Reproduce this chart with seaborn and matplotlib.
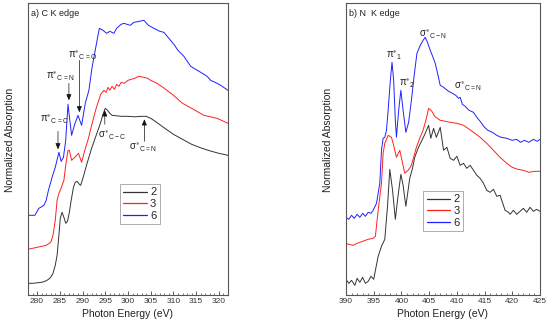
import numpy as np
import pandas as pd
import matplotlib
matplotlib.use("Agg")
import matplotlib.pyplot as plt
import seaborn as sns
from matplotlib.ticker import MultipleLocator
from matplotlib.lines import Line2D

# ---------------- data (C K edge) ----------------
c_e_2 = [278, 279, 280, 281, 282, 282.5, 283, 283.5, 284, 284.4, 284.8, 285.1, 285.5, 285.9, 286.3, 286.7,
         287.1, 287.5, 288, 288.4, 288.8, 289.3, 289.6, 290.2, 291, 292, 293, 294, 294.5, 295, 295.5, 296,
         296.5, 297.5, 298.5, 300, 301.5, 303, 304, 305, 306, 307.8, 310, 312, 314, 316, 318, 320, 322]
c_a_2 = [0.12, 0.12, 0.125, 0.13, 0.145, 0.16, 0.18, 0.22, 0.30, 0.40, 0.60, 0.77, 0.83, 0.78, 0.72, 0.74,
         0.83, 0.95, 1.08, 1.13, 1.14, 1.11, 1.10, 1.19, 1.32, 1.47, 1.60, 1.73, 1.81, 1.87, 1.85, 1.82,
         1.80, 1.795, 1.79, 1.79, 1.785, 1.79, 1.79, 1.77, 1.74, 1.68, 1.61, 1.56, 1.51, 1.475, 1.445, 1.42, 1.40]

c_e_3 = [278, 280, 282, 283, 283.5, 284, 284.4, 284.8, 285.1, 285.5, 285.9, 286.3, 286.8, 287.1, 287.6, 288.3,
         289.1, 289.8, 290.5, 291.3, 292, 293, 294, 294.7, 295.2, 295.6, 296, 296.5, 297, 297.5, 298, 298.5,
         299.2, 300, 300.7, 301.5, 302.3, 303.5, 304.3, 305, 306.4, 308, 310, 312, 314, 316.7, 319.6, 322]
c_a_3 = [0.46, 0.48, 0.50, 0.53, 0.60, 0.75, 0.95, 1.02, 1.05, 1.10, 1.15, 1.30, 1.45, 1.45, 1.35, 1.38,
         1.42, 1.33, 1.45, 1.57, 1.70, 1.87, 2.01, 2.05, 2.03, 2.08, 2.05, 2.09, 2.06, 2.11, 2.09, 2.13,
         2.12, 2.15, 2.16, 2.17, 2.19, 2.18, 2.17, 2.15, 2.12, 2.07, 2.00, 1.92, 1.87, 1.80, 1.77, 1.72]

c_e_6 = [278, 279.5, 280.4, 281.5, 282, 282.5, 283.3, 284, 284.8, 285.3, 285.8, 286.3, 286.8, 287.2, 287.6,
         288.2, 289, 289.8, 290.6, 291.4, 292.1, 293.2, 293.7, 294.5, 295.3, 296, 296.9, 297.5, 298.5, 299.1,
         300.5, 301.3, 302.5, 303.5, 304.5, 305.7, 307, 307.9, 309, 310.1, 311, 312.3, 313.8, 314.5, 316,
         317.4, 318.2, 319.6, 320.4, 322]
c_a_6 = [0.80, 0.80, 0.87, 0.90, 0.95, 1.05, 1.18, 1.28, 1.43, 1.34, 1.38, 1.55, 1.91, 1.75, 1.60,
         1.70, 1.80, 1.70, 1.92, 2.05, 2.28, 2.55, 2.67, 2.65, 2.62, 2.64, 2.62, 2.67, 2.71, 2.72,
         2.70, 2.73, 2.74, 2.75, 2.70, 2.67, 2.64, 2.63, 2.57, 2.51, 2.45, 2.39, 2.29, 2.27, 2.23,
         2.19, 2.15, 2.12, 2.10, 2.05]

# ---------------- data (N K edge) ----------------
n_e_2 = [390, 390.5, 391, 391.6, 392, 392.5, 393, 393.5, 394, 394.5, 395, 395.2, 395.8, 396.4, 397, 397.5,
         397.9, 398.4, 398.9, 399.4, 399.9, 400.3, 400.8, 401.5, 402, 402.4, 403, 403.7, 404.3, 404.9, 405.3,
         405.8, 406.3, 407, 407.6, 408.2, 408.8, 409.4, 410, 410.6, 411.2, 411.8, 412.4, 413, 413.6, 414.2,
         414.8, 415.4, 416, 416.6, 417.2, 417.8, 418.4, 418.7, 419.3, 419.6, 420.2, 420.8, 421.4, 422, 422.6,
         423.2, 423.8, 424.4, 425]
n_a_2 = [0.16, 0.12, 0.15, 0.10, 0.17, 0.13, 0.18, 0.12, 0.14, 0.19, 0.16, 0.22, 0.39, 0.49, 0.56, 0.90,
         1.26, 1.05, 0.76, 1.00, 1.21, 1.10, 0.89, 1.17, 1.27, 1.38, 1.47, 1.55, 1.62, 1.70, 1.57,
         1.67, 1.58, 1.68, 1.45, 1.48, 1.37, 1.35, 1.39, 1.30, 1.32, 1.27, 1.30, 1.25, 1.20, 1.17,
         1.12, 1.05, 1.03, 1.06, 0.99, 1.00, 0.90, 0.85, 0.83, 0.81, 0.85, 0.81, 0.84, 0.87, 0.83,
         0.88, 0.84, 0.86, 0.84]

n_e_3 = [390, 390.5, 391.3, 392, 393, 394, 394.9, 395.3, 395.8, 396.4, 396.7, 397, 397.6, 398.2, 398.6, 399.1,
         399.7, 400.1, 400.6, 401.2, 401.8, 402.7, 403.3, 403.9, 404.5, 404.9, 405.5, 406, 407, 408, 408.8,
         410, 411.2, 412, 413, 414.2, 415.4, 416.6, 417.8, 419, 420, 421, 422, 423, 424, 425]
n_a_3 = [0.52, 0.51, 0.50, 0.52, 0.54, 0.56, 0.57, 0.59, 0.85, 1.12, 1.42, 1.52, 1.60, 1.58, 1.50, 1.38,
         1.45, 1.35, 1.22, 1.25, 1.30, 1.48, 1.57, 1.65, 1.77, 1.87, 1.84, 1.79, 1.75, 1.74, 1.73,
         1.72, 1.70, 1.67, 1.63, 1.58, 1.52, 1.45, 1.38, 1.32, 1.28, 1.26, 1.25, 1.23, 1.24, 1.24]

n_e_6 = [390, 390.5, 391, 391.5, 392, 392.5, 393, 393.5, 394, 394.5, 394.9, 395.5, 396.1, 396.4, 396.7, 397,
         397.3, 397.6, 398, 398.3, 398.6, 398.9, 399.1, 399.5, 399.9, 400.3, 400.8, 401.3, 401.8, 402.3,
         402.8, 403.4, 403.9, 404.3, 404.7, 405.2, 405.7, 406.1, 406.6, 407, 407.6, 408.5, 409.2, 409.8,
         410.3, 410.6, 411, 411.5, 412.2, 413, 413.6, 414.2, 415, 415.6, 416.4, 417.2, 418, 419, 420,
         420.8, 421.5, 422.2, 423, 423.8, 424.5, 425]
n_a_6 = [0.78, 0.76, 0.80, 0.77, 0.81, 0.78, 0.82, 0.79, 0.83, 0.82, 0.85, 0.92, 1.12, 1.45, 1.57, 1.58,
         1.65, 1.85, 2.15, 2.33, 2.15, 1.75, 1.58, 1.85, 2.05, 1.85, 1.63, 1.73, 1.95, 2.20,
         2.42, 2.50, 2.55, 2.58, 2.53, 2.45, 2.38, 2.32, 2.20, 2.10, 2.08, 2.04, 2.02, 2.00,
         1.97, 1.98, 1.91, 1.89, 1.85, 1.83, 1.78, 1.74, 1.68, 1.65, 1.63, 1.60, 1.58, 1.57, 1.55,
         1.56, 1.53, 1.55, 1.53, 1.56, 1.54, 1.56]

labels = ["2", "3", "6"]
colors = {"2": "#333333", "3": "#ff2020", "6": "#2020ff"}


def frame(es, as_):
    parts = []
    for lab, e, a in zip(labels, es, as_):
        parts.append(pd.DataFrame({"E": e, "A": a, "sample": lab}))
    return pd.concat(parts, ignore_index=True)


df_c = frame([c_e_2, c_e_3, c_e_6], [c_a_2, c_a_3, c_a_6])
df_n = frame([n_e_2, n_e_3, n_e_6], [n_a_2, n_a_3, n_a_6])

sns.set_style("white")
plt.rcParams["font.family"] = ["Liberation Sans", "DejaVu Sans"]
plt.rcParams["mathtext.default"] = "regular"

fig = plt.figure(figsize=(5.5, 3.32), dpi=100)
ax1 = fig.add_axes([0.0509, 0.1105, 0.3636, 0.8795])
ax2 = fig.add_axes([0.6291, 0.1105, 0.3527, 0.8795])

for ax, df, xlim, title, leg_anchor in [
    (ax1, df_c, (278, 322), "a) C K edge", (0.46, 0.381)),
    (ax2, df_n, (390, 425), "b) N  K edge", (0.398, 0.357)),
]:
    sns.lineplot(data=df, x="E", y="A", hue="sample", palette=colors, hue_order=labels,
                 estimator=None, sort=False, linewidth=0.7, ax=ax, legend=False)
    ax.set_xlim(*xlim)
    ax.set_ylim(0, 2.92)
    ax.set_yticks([])
    ax.xaxis.set_major_locator(MultipleLocator(5))
    ax.xaxis.set_minor_locator(MultipleLocator(1))
    ax.tick_params(axis="x", which="major", direction="in", length=3, width=0.6,
                   labelsize=6, pad=2, bottom=True, colors="#444444", labelcolor="#333333")
    ax.tick_params(axis="x", which="minor", direction="in", length=1.6, width=0.5,
                   bottom=True, colors="#444444")
    for sp in ax.spines.values():
        sp.set_visible(True)
        sp.set_color("#555555")
        sp.set_linewidth(0.8)
    ax.set_xlabel("Photon Energy (eV)", fontsize=7.5, labelpad=3, color="#222222")
    ax.set_ylabel("Normalized Absorption", fontsize=7.5, color="#222222")
    ax.yaxis.set_label_coords(-0.065, 0.532)
    ax.text(0.015, 0.965, title, transform=ax.transAxes, fontsize=6.5, ha="left", va="center",
            color="#222222")
    handles = [Line2D([], [], color=colors[l], lw=0.9) for l in labels]
    leg = ax.legend(handles, labels, loc="upper left", bbox_to_anchor=leg_anchor,
                    fontsize=8, handlelength=2.1, handletextpad=0.3, labelspacing=0.15,
                    borderpad=0.3, frameon=True, fancybox=False, borderaxespad=0)
    leg.get_frame().set_edgecolor("#888888")
    leg.get_frame().set_linewidth(0.6)

afs = 7
tcol = "#222222"
arrow = dict(arrowstyle="-|>,head_length=0.35,head_width=0.15", color="#111111", lw=0.5,
             shrinkA=0, shrinkB=0)
# left panel annotations
ax1.text(280.7, 1.76, r"$\pi^{\ast}{}_{C=C}$", fontsize=afs, ha="left", va="center", color=tcol)
ax1.annotate("", xy=(284.6, 1.46), xytext=(284.6, 1.64), arrowprops=arrow)
ax1.text(282.0, 2.19, r"$\pi^{\ast}{}_{C=N}$", fontsize=afs, ha="left", va="center", color=tcol)
ax1.annotate("", xy=(287.0, 1.95), xytext=(287.0, 2.12), arrowprops=arrow)
ax1.text(286.9, 2.40, r"$\pi^{\ast}{}_{C=O}$", fontsize=afs, ha="left", va="center", color=tcol)
ax1.annotate("", xy=(289.3, 1.83), xytext=(289.3, 2.35), arrowprops=arrow)
ax1.text(293.5, 1.60, r"$\sigma^{\ast}{}_{C-C}$", fontsize=afs, ha="left", va="center", color=tcol)
ax1.annotate("", xy=(294.9, 1.85), xytext=(294.9, 1.71), arrowprops=arrow)
ax1.text(300.3, 1.48, r"$\sigma^{\ast}{}_{C=N}$", fontsize=afs, ha="left", va="center", color=tcol)
ax1.annotate("", xy=(303.6, 1.76), xytext=(303.6, 1.54), arrowprops=arrow)
# right panel annotations
ax2.text(397.2, 2.40, r"$\pi^{\ast}{}_{1}$", fontsize=afs, ha="left", va="center", color=tcol)
ax2.text(399.6, 2.12, r"$\pi^{\ast}{}_{2}$", fontsize=afs, ha="left", va="center", color=tcol)
ax2.text(403.2, 2.61, r"$\sigma^{\ast}{}_{C-N}$", fontsize=afs, ha="left", va="center", color=tcol)
ax2.text(409.5, 2.09, r"$\sigma^{\ast}{}_{C=N}$", fontsize=afs, ha="left", va="center", color=tcol)

fig.savefig("out.png", dpi=100)
